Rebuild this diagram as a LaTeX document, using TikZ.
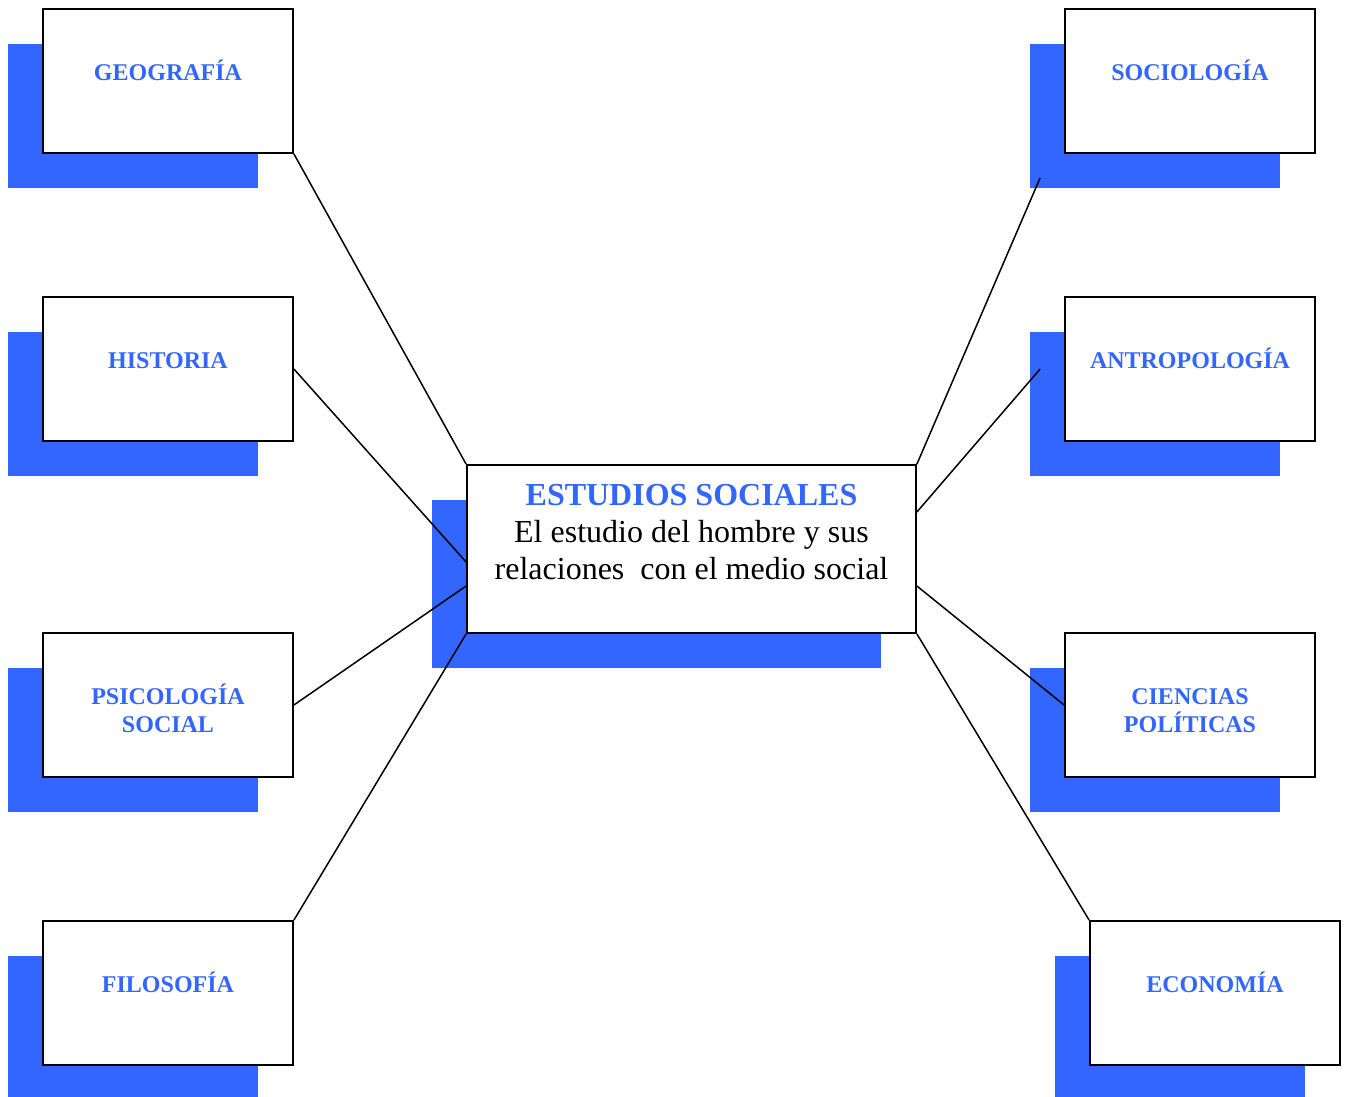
\documentclass[tikz,border=0pt]{standalone}
\usepackage{fontspec}
\setmainfont{Liberation Serif}
\usetikzlibrary{positioning, shadows, calc}
\definecolor{azul}{RGB}{51,102,255}

\begin{document}
\begin{tikzpicture}[x=1pt, y=-1pt]
    \tikzstyle{rama} = [rectangle, minimum width=250pt, minimum height=144pt, inner sep=0pt, draw=black, line width=1.8pt, fill=white, drop shadow={shadow xshift=-35pt, shadow yshift=-35pt, fill=azul, opacity=1}]
    \tikzstyle{nucleo} = [rama, minimum width=449pt, minimum height=168pt]
    \tikzstyle{nombre} = [anchor=base, align=center, inner sep=0pt, text=azul, font=\bfseries\fontsize{24}{28}\selectfont]
    \tikzstyle{cuerpo} = [anchor=base, align=center, inner sep=0pt, font=\fontsize{32}{37}\selectfont]
    \tikzstyle{linea} = [line width=1.5pt]

    \useasboundingbox (0,0) rectangle (1349,1097);

    % cajas
    \node (geografia) [rama] at (168,81) {};
    \node (historia) [rama] at (168,369) {};
    \node (psicologia) [rama] at (168,705) {};
    \node (filosofia) [rama] at (168,993) {};
    \node (sociologia) [rama] at (1190,81) {};
    \node (antropologia) [rama] at (1190,369) {};
    \node (ciencias) [rama] at (1190,705) {};
    \node (economia) [rama] at (1215,993) {};
    \node (estudios) [nucleo] at (691.5,549) {};

    % textos (base = ultima linea)
    \node (t-geografia) [nombre] at ([yshift=-72pt]geografia.north) {GEOGRAFÍA};
    \node (t-historia) [nombre] at ([yshift=-72pt]historia.north) {HISTORIA};
    \node (t-psicologia) [nombre] at ([yshift=-100pt]psicologia.north) {PSICOLOGÍA\\SOCIAL};
    \node (t-filosofia) [nombre] at ([yshift=-72pt]filosofia.north) {FILOSOFÍA};
    \node (t-sociologia) [nombre] at ([yshift=-72pt]sociologia.north) {SOCIOLOGÍA};
    \node (t-antropologia) [nombre] at ([yshift=-72pt]antropologia.north) {ANTROPOLOGÍA};
    \node (t-ciencias) [nombre] at ([yshift=-100pt]ciencias.north) {CIENCIAS\\POLÍTICAS};
    \node (t-economia) [nombre] at ([yshift=-72pt]economia.north) {ECONOMÍA};
    \node (t-estudios) [cuerpo] at ([yshift=-115pt]estudios.north) {\textbf{\textcolor{azul}{ESTUDIOS SOCIALES}}\\El estudio del hombre y sus\\relaciones \ con el medio social};

    % lineas
    \coordinate (sociologia-p) at ([xshift=-24pt,yshift=-24pt]sociologia.south west);
    \coordinate (antropologia-p) at ([xshift=-24pt]antropologia.west);
    \draw [linea] (geografia.south east) -- (estudios.north west);
    \draw [linea] (historia.east) -- ([yshift=-13pt]estudios.west);
    \draw [linea] (psicologia.east) -- ([yshift=-37pt]estudios.west);
    \draw [linea] (filosofia.north east) -- (estudios.south west);
    \draw [linea] (sociologia-p) -- (estudios.north east);
    \draw [linea] (antropologia-p) -- ([yshift=37pt]estudios.east);
    \draw [linea] (ciencias.west) -- ([yshift=-37pt]estudios.east);
    \draw [linea] (economia.north west) -- (estudios.south east);
\end{tikzpicture}
\end{document}
